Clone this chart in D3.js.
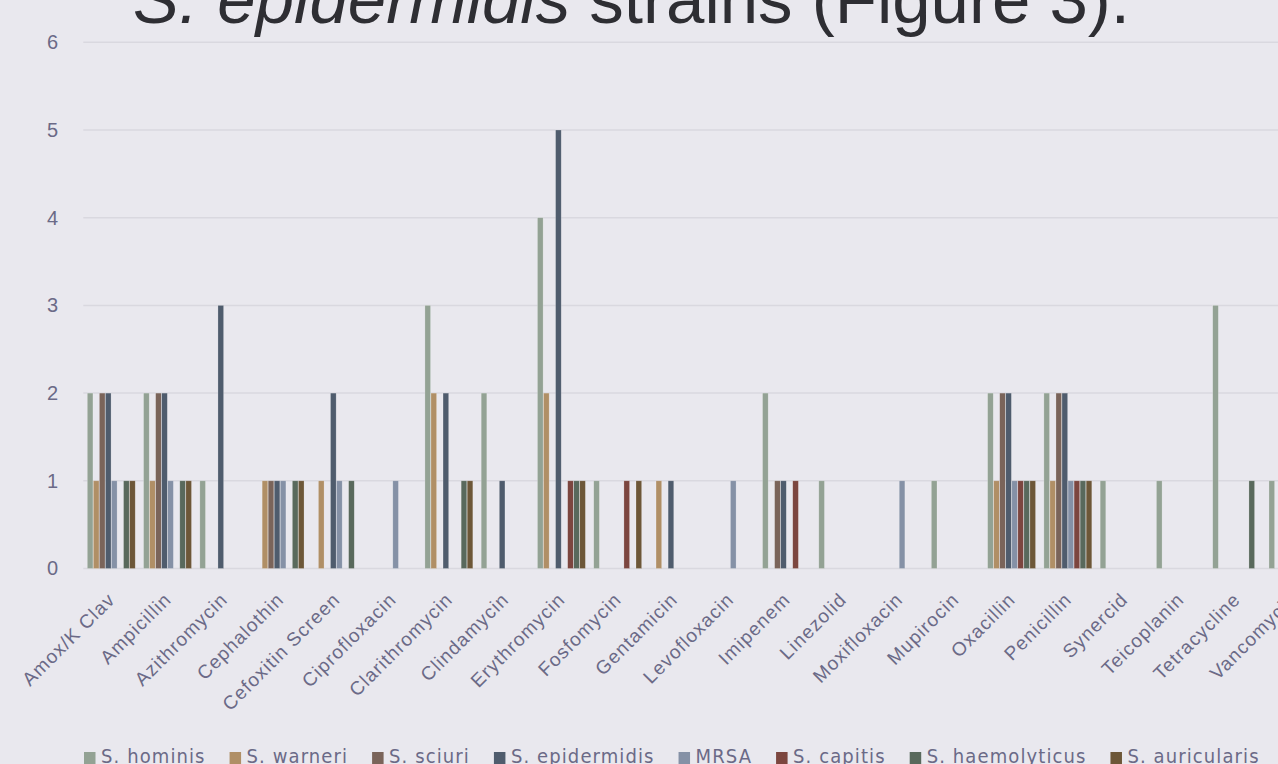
<!DOCTYPE html>
<html><head><meta charset="utf-8">
<script src="https://cdn.jsdelivr.net/npm/d3@7"></script>
<style>
html,body{margin:0;padding:0;background:#e9e8ee;overflow:hidden;}
svg{display:block;}
</style></head><body>
<svg id="chart" width="1278" height="764"></svg>
<script>
// Antibiotics tested (x categories)
const categories = ["Amox/K Clav","Ampicillin","Azithromycin","Cephalothin","Cefoxitin Screen",
  "Ciprofloxacin","Clarithromycin","Clindamycin","Erythromycin","Fosfomycin","Gentamicin",
  "Levofloxacin","Imipenem","Linezolid","Moxifloxacin","Mupirocin","Oxacillin","Penicillin",
  "Synercid","Teicoplanin","Tetracycline","Vancomycin"];

const seriesNames = ["S. hominis","S. warneri","S. sciuri","S. epidermidis","MRSA","S. capitis","S. haemolyticus","S. auricularis"];
const seriesColors = ["#93a294","#b08f66","#7a645a","#4f5c6d","#8591a6","#7c463f","#59695c","#6d5738"];

// Resistant isolate counts per antibiotic
const hominis      = [2,2,1,0,0,0,3,2,4,1,0,0,2,1,0,1,2,2,1,1,3,1];
const warneri      = [1,1,0,1,1,0,2,0,2,0,1,0,0,0,0,0,1,1,0,0,0,0];
const sciuri       = [2,2,0,1,0,0,0,0,0,0,0,0,1,0,0,0,2,2,0,0,0,0];
const epidermidis  = [2,2,3,1,2,0,2,1,5,0,1,0,1,0,0,0,2,2,0,0,0,0];
const mrsa         = [1,1,0,1,1,1,0,0,0,0,0,1,0,0,1,0,1,1,0,0,0,0];
const capitis      = [0,0,0,0,0,0,0,0,1,1,0,0,1,0,0,0,1,1,0,0,0,0];
const haemolyticus = [1,1,0,1,1,0,1,0,1,0,0,0,0,0,0,0,1,1,0,0,1,0];
const auricularis  = [1,1,0,1,0,0,1,0,1,1,0,0,0,0,0,0,1,1,0,0,0,0];

const yTicks = [0,1,2,3,4,5,6];

const seriesValues = [hominis, warneri, sciuri, epidermidis, mrsa, capitis, haemolyticus, auricularis];

const svg = d3.select("#chart");
const textColor = "#6b6a87";

const plotLeft = 83.3, band = 56.27;
const x = d3.scaleBand().domain(categories)
  .range([plotLeft, plotLeft + band * categories.length]).padding(0);
const xs = d3.scaleBand().domain(seriesNames)
  .range([4, 4 + 6.04 * seriesNames.length]).padding(0);
const y = d3.scaleLinear().domain([0, 6]).range([568.5, 42.3]);

// Title line (clipped at top edge)
const title = svg.append("text")
  .attr("x", 133).attr("y", 23)
  .attr("font-family", "Liberation Sans, Arial, sans-serif")
  .attr("font-size", 69).attr("fill", "#2e2e33");
title.append("tspan").attr("font-style", "italic").text("S. epidermidis");
title.append("tspan").text(" strains (Figure 3).");

// Gridlines
svg.append("g").selectAll("line").data(yTicks).join("line")
  .attr("x1", plotLeft).attr("x2", 1278)
  .attr("y1", d => y(d)).attr("y2", d => y(d))
  .attr("stroke", "#d9d8df").attr("stroke-width", 1.5);

// Y axis labels
const yAxis = svg.append("g").attr("transform", "translate(58,0)")
  .call(d3.axisLeft(y).tickValues(yTicks).tickSize(0).tickPadding(0).tickFormat(d3.format("d")));
yAxis.select(".domain").remove();
yAxis.selectAll("text").attr("fill", textColor)
  .attr("font-family", "Liberation Sans, Arial, sans-serif").attr("font-size", 20);

// Bars
const groups = svg.append("g").selectAll("g").data(categories).join("g")
  .attr("transform", d => `translate(${x(d)},0)`);
groups.selectAll("rect")
  .data((c, ci) => seriesNames.map((s, si) => ({s, si, v: seriesValues[si][ci]})))
  .join("rect")
  .attr("x", d => xs(d.s))
  .attr("width", xs.bandwidth() - 0.4)
  .attr("y", d => y(d.v))
  .attr("height", d => y(0) - y(d.v))
  .attr("fill", d => seriesColors[d.si])
  .attr("stroke", "rgba(255,255,255,0.35)").attr("stroke-width", 0.6);

// X axis labels (rotated)
const xAxis = svg.append("g").attr("transform", "translate(0,580)")
  .call(d3.axisBottom(x).tickSize(0).tickPadding(0));
xAxis.select(".domain").remove();
xAxis.selectAll("text")
  .attr("fill", textColor)
  .attr("font-family", "Liberation Sans, Arial, sans-serif").attr("font-size", 19)
  .attr("letter-spacing", 1.1)
  .attr("text-anchor", "end")
  .attr("dy", "0.35em")
  .attr("transform", "translate(0,16) rotate(-45)");

// Legend
const legend = svg.append("g").attr("transform", "translate(0,762.5)");
let lx = 84;
seriesNames.forEach((name, i) => {
  legend.append("rect").attr("x", lx).attr("y", -10.5).attr("width", 11.5).attr("height", 12)
    .attr("fill", seriesColors[i]);
  const t = legend.append("text").attr("x", lx + 17).attr("y", 0)
    .attr("font-family", "DejaVu Sans Condensed, DejaVu Sans, sans-serif")
    .attr("font-size", 20).attr("letter-spacing", 1.1).attr("fill", textColor).text(name);
  lx += 17 + t.node().getComputedTextLength() + 24;
});
</script>
</body></html>
